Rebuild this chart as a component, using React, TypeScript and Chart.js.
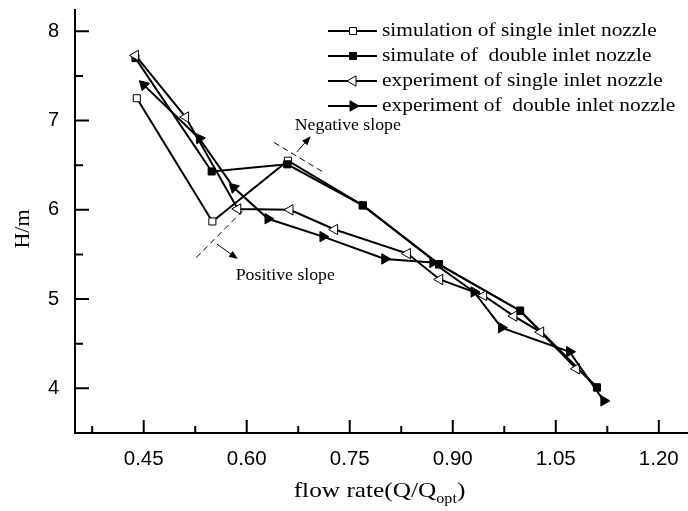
import React, { useEffect, useRef } from 'react';
import { Chart, registerables } from 'chart.js';

Chart.register(...registerables);

// ---------- data ----------
const seriesNames = [
  'simulation of single inlet nozzle',
  'simulate of  double inlet nozzle',
  'experiment of single inlet nozzle',
  'experiment of  double inlet nozzle',
];
const simSingleX = [0.44, 0.55, 0.66, 0.769, 0.88, 0.998, 1.11];
const simSingleY = [7.25, 5.87, 6.55, 6.05, 5.39, 4.87, 4.01];
const simDoubleX = [0.438, 0.549, 0.659, 0.769, 0.88, 0.998, 1.11];
const simDoubleY = [7.7, 6.43, 6.51, 6.05, 5.39, 4.87, 4.01];
const expSingleX = [0.438, 0.511, 0.587, 0.663, 0.728, 0.834, 0.881, 0.945, 0.989, 1.028, 1.08];
const expSingleY = [7.73, 7.04, 6.01, 6.0, 5.78, 5.51, 5.22, 5.04, 4.81, 4.63, 4.22];
const expDoubleX = [0.45, 0.531, 0.581, 0.631, 0.711, 0.801, 0.871, 0.931, 0.971, 1.07, 1.12];
const expDoubleY = [7.4, 6.8, 6.25, 5.9, 5.7, 5.45, 5.41, 5.08, 4.68, 4.41, 3.86];

const xMajorTicks = [0.45, 0.6, 0.75, 0.9, 1.05, 1.2];
const xMinorTicks = [0.375, 0.525, 0.675, 0.825, 0.975, 1.125];
const yMajorTicks = [4, 5, 6, 7, 8];
const yMinorTicks = [4.5, 5.5, 6.5, 7.5];

const xTitle = 'flow rate(Q/Q';
const xTitleSub = 'opt';
const yTitle = 'H/m';
const negLabel = 'Negative slope';
const posLabel = 'Positive slope';
// annotation geometry in data units
const negDash = [[0.6398, 6.755], [0.7121, 6.419]];
const negArrow = [[0.6732, 6.65], [0.6932, 6.825]];
const negText = [0.67, 6.94];
const posDash = [[0.5942, 5.989], [0.5243, 5.448]];
const posArrow = [[0.5567, 5.616], [0.5873, 5.448]];
const posText = [0.584, 5.261];

// marker orientation of the filled triangles (style, degrees)
const expDoubleRot = [-46, -35, -47, 90, 90, 90, 90, 90, 90, 90, 90];

const toPts = (xs: number[], ys: number[]) => xs.map((x, i) => ({ x, y: ys[i] }));

const SERIF = '"Liberation Serif", "Times New Roman", serif';
const SANS = '"Liberation Sans", Arial, sans-serif';

type Marker = { style: string; fill: string; rot: number; r: number };
const markers: Marker[] = [
  { style: 'rect', fill: '#fff', rot: 0, r: 5 },
  { style: 'rect', fill: '#000', rot: 0, r: 5 },
  { style: 'triangle', fill: '#fff', rot: -90, r: 6 },
  { style: 'triangle', fill: '#000', rot: 90, r: 6 },
];

function drawMarker(ctx: CanvasRenderingContext2D, m: Marker, x: number, y: number) {
  ctx.save();
  ctx.beginPath();
  if (m.style === 'rect') {
    const s = Math.SQRT1_2 * m.r;
    ctx.rect(x - s, y - s, 2 * s, 2 * s);
  } else {
    let rad = (m.rot * Math.PI) / 180;
    const third = (2 * Math.PI) / 3;
    ctx.moveTo(x + Math.sin(rad) * m.r, y - Math.cos(rad) * m.r);
    rad += third;
    ctx.lineTo(x + Math.sin(rad) * m.r, y - Math.cos(rad) * m.r);
    rad += third;
    ctx.lineTo(x + Math.sin(rad) * m.r, y - Math.cos(rad) * m.r);
    ctx.closePath();
  }
  ctx.fillStyle = m.fill;
  ctx.fill();
  ctx.lineWidth = 1;
  ctx.strokeStyle = '#000';
  ctx.stroke();
  ctx.restore();
}

function arrow(ctx: CanvasRenderingContext2D, x1: number, y1: number, x2: number, y2: number) {
  const ang = Math.atan2(y2 - y1, x2 - x1);
  const hl = 9, hw = 3.5;
  ctx.beginPath();
  ctx.moveTo(x1, y1);
  ctx.lineTo(x2 - Math.cos(ang) * hl * 0.8, y2 - Math.sin(ang) * hl * 0.8);
  ctx.lineWidth = 1;
  ctx.stroke();
  ctx.beginPath();
  ctx.moveTo(x2, y2);
  ctx.lineTo(x2 - Math.cos(ang) * hl - Math.sin(ang) * hw, y2 - Math.sin(ang) * hl + Math.cos(ang) * hw);
  ctx.lineTo(x2 - Math.cos(ang) * hl + Math.sin(ang) * hw, y2 - Math.sin(ang) * hl - Math.cos(ang) * hw);
  ctx.closePath();
  ctx.fill();
}

// text drawn with a horizontal stretch (the reference's lettering is wide)
function wideText(ctx: CanvasRenderingContext2D, s: string, x: number, y: number, sx: number) {
  ctx.save();
  ctx.translate(x, y);
  ctx.scale(sx, 1);
  ctx.fillText(s, 0, 0);
  ctx.restore();
}

const decorPlugin = {
  id: 'decor',
  afterDraw(chart: any) {
    const ctx: CanvasRenderingContext2D = chart.ctx;
    const xs = chart.scales.x, ys = chart.scales.y;
    const a = chart.chartArea;
    ctx.save();
    ctx.strokeStyle = '#000';
    ctx.fillStyle = '#000';
    // axes
    ctx.lineWidth = 2;
    ctx.beginPath();
    ctx.moveTo(a.left, a.top);
    ctx.lineTo(a.left, a.bottom);
    ctx.lineTo(a.right, a.bottom);
    ctx.stroke();
    // ticks (inward)
    ctx.lineWidth = 2;
    ctx.beginPath();
    xMajorTicks.forEach((v) => { const p = xs.getPixelForValue(v); ctx.moveTo(p, a.bottom); ctx.lineTo(p, a.bottom - 13); });
    xMinorTicks.forEach((v) => { const p = xs.getPixelForValue(v); ctx.moveTo(p, a.bottom); ctx.lineTo(p, a.bottom - 7); });
    yMajorTicks.forEach((v) => { const p = ys.getPixelForValue(v); ctx.moveTo(a.left, p); ctx.lineTo(a.left + 14, p); });
    yMinorTicks.forEach((v) => { const p = ys.getPixelForValue(v); ctx.moveTo(a.left, p); ctx.lineTo(a.left + 8, p); });
    ctx.stroke();

    // x title with subscript
    const xsx = 1.15;
    ctx.font = `22px ${SERIF}`;
    const w1 = ctx.measureText(xTitle).width * xsx;
    ctx.font = `14px ${SERIF}`;
    const w2 = ctx.measureText(xTitleSub).width * xsx;
    ctx.font = `22px ${SERIF}`;
    const w3 = ctx.measureText(')').width * xsx;
    const cx = (a.left + a.right) / 2 - 2;
    let tx = cx - (w1 + w2 + w3) / 2;
    const by = 497;
    ctx.textBaseline = 'alphabetic';
    ctx.textAlign = 'left';
    wideText(ctx, xTitle, tx, by, xsx);
    tx += w1;
    ctx.font = `14px ${SERIF}`;
    wideText(ctx, xTitleSub, tx, by + 6, xsx);
    tx += w2;
    ctx.font = `22px ${SERIF}`;
    wideText(ctx, ')', tx, by, xsx);

    // y title
    ctx.save();
    ctx.translate(23, (a.top + a.bottom) / 2 + 8);
    ctx.rotate(-Math.PI / 2);
    ctx.textAlign = 'center';
    ctx.textBaseline = 'middle';
    ctx.font = `22px ${SERIF}`;
    ctx.fillText(yTitle, 0, 0);
    ctx.restore();

    // annotations
    const P = (p: number[]) => [xs.getPixelForValue(p[0]), ys.getPixelForValue(p[1])];
    ctx.lineWidth = 1;
    ctx.setLineDash([6, 4]);
    [negDash, posDash].forEach((d) => {
      const p1 = P(d[0]), p2 = P(d[1]);
      ctx.beginPath();
      ctx.moveTo(p1[0], p1[1]);
      ctx.lineTo(p2[0], p2[1]);
      ctx.stroke();
    });
    ctx.setLineDash([]);
    [negArrow, posArrow].forEach((d) => {
      const p1 = P(d[0]), p2 = P(d[1]);
      arrow(ctx, p1[0], p1[1], p2[0], p2[1]);
    });
    ctx.font = `16px ${SERIF}`;
    ctx.textAlign = 'left';
    ctx.textBaseline = 'middle';
    const nt = P(negText), pt = P(posText);
    wideText(ctx, negLabel, nt[0], nt[1], 1.11);
    wideText(ctx, posLabel, pt[0], pt[1], 1.11);

    // legend
    const lx0 = 328, lx1 = 377, mx = 353, tx0 = 382;
    const rowY = [31, 56, 81, 106];
    ctx.font = `18px ${SERIF}`;
    ctx.textBaseline = 'alphabetic';
    seriesNames.forEach((name, i) => {
      const y = rowY[i];
      ctx.lineWidth = 2;
      ctx.beginPath();
      ctx.moveTo(lx0, y);
      ctx.lineTo(lx1, y);
      ctx.stroke();
      drawMarker(ctx, markers[i], mx, y);
      ctx.fillStyle = '#000';
      wideText(ctx, name, tx0, y + 5, 1.19);
    });
    ctx.restore();
  },
};

export default function App() {
  const ref = useRef<HTMLCanvasElement | null>(null);
  useEffect(() => {
    document.body.style.margin = '0';
    const canvas = ref.current;
    if (!canvas) return;
    const dsets = [
      toPts(simSingleX, simSingleY),
      toPts(simDoubleX, simDoubleY),
      toPts(expSingleX, expSingleY),
      toPts(expDoubleX, expDoubleY),
    ].map((data, i) => ({
      label: seriesNames[i],
      data,
      borderColor: '#000',
      borderWidth: 2,
      backgroundColor: markers[i].fill,
      pointStyle: markers[i].style,
      pointRotation: i === 3 ? expDoubleRot : markers[i].rot,
      pointRadius: markers[i].r,
      pointBorderWidth: 1,
      pointBorderColor: '#000',
      pointBackgroundColor: markers[i].fill,
      tension: 0,
      fill: false,
      showLine: true,
      clip: false,
      order: 4 - i,
    }));
    const chart = new Chart(canvas, {
      type: 'scatter',
      data: { datasets: dsets as any },
      options: {
        animation: false,
        responsive: false,
        devicePixelRatio: 1,
        layout: { autoPadding: false, padding: { top: 9, left: 0, right: 0, bottom: 0 } },
        plugins: { legend: { display: false }, tooltip: { enabled: false } },
        scales: {
          x: {
            type: 'linear',
            min: 0.35,
            max: 1.2425,
            grid: { display: false, drawTicks: false },
            border: { display: false },
            afterBuildTicks: (axis: any) => { axis.ticks = xMajorTicks.map((v) => ({ value: v })); },
            afterFit: (axis: any) => {
              axis.height = 78;
              axis.paddingLeft = 0; axis.paddingRight = 0; axis.paddingTop = 0; axis.paddingBottom = 0;
            },
            ticks: {
              padding: 14,
              color: '#000',
              font: { family: SANS, size: 20.5 },
              maxRotation: 0,
              autoSkip: false,
              callback: (v: any) => Number(v).toFixed(2),
            },
          },
          y: {
            type: 'linear',
            min: 3.5,
            max: 8.25,
            grid: { display: false, drawTicks: false },
            border: { display: false },
            afterBuildTicks: (axis: any) => { axis.ticks = yMajorTicks.map((v) => ({ value: v })); },
            afterFit: (axis: any) => {
              axis.width = 75;
              axis.paddingLeft = 0; axis.paddingRight = 0; axis.paddingTop = 0; axis.paddingBottom = 0;
            },
            ticks: {
              padding: 16,
              color: '#000',
              font: { family: SANS, size: 20 },
              autoSkip: false,
              callback: (v: any) => String(v),
            },
          },
        },
      },
      plugins: [decorPlugin],
    });
    return () => chart.destroy();
  }, []);
  return (
    <div style={{ width: 688, height: 511, background: '#fff' }}>
      <canvas ref={ref} width={688} height={511} style={{ display: 'block' }} />
    </div>
  );
}
